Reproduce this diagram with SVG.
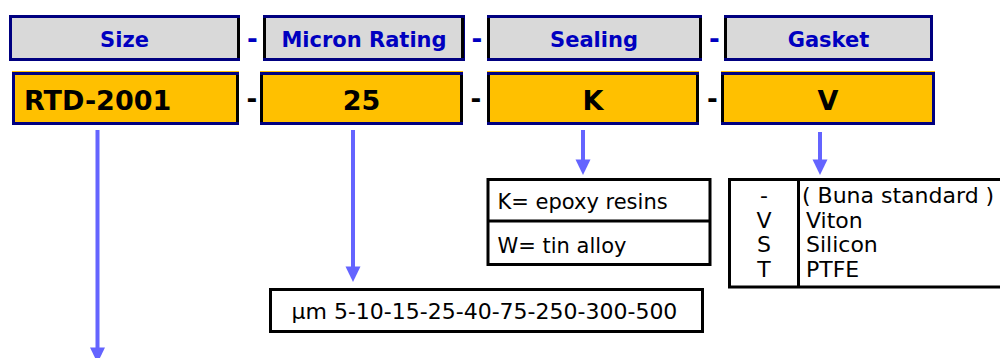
<svg xmlns="http://www.w3.org/2000/svg" width="1000" height="358" viewBox="0 0 1000 358">
<defs>
<style>
.hdr{fill:#d9d9d9;stroke:#000080;stroke-width:3}
.val{fill:#ffc000;stroke:#000080;stroke-width:3}
.inner{stroke:#000000;stroke-width:3}
.otop{stroke:#ffc000;stroke-width:1}
.ht{font-family:"DejaVu Sans",Verdana,sans-serif;font-weight:bold;font-size:21px;fill:#0000c0;text-anchor:middle}
.vt{font-family:"DejaVu Sans",Verdana,sans-serif;font-weight:bold;font-size:27px;fill:#000000;text-anchor:middle}
.dash{font-family:"DejaVu Sans",Verdana,sans-serif;font-weight:bold;font-size:26px;text-anchor:middle}
.box{fill:#ffffff;stroke:#000000;stroke-width:3}
.bt{font-family:"DejaVu Sans",Verdana,sans-serif;font-size:21px;fill:#000000}
.mt{font-family:"DejaVu Sans",Verdana,sans-serif;font-size:22px;fill:#000000}
.gt{font-family:"DejaVu Sans",Verdana,sans-serif;font-size:22px;fill:#000000}
.conn{stroke:#6464ff;stroke-width:4;fill:none}
.head{fill:#6464ff}
</style>
</defs>
<rect width="1000" height="358" fill="#ffffff"/>
<g id="hdr-size">
<rect class="hdr" x="10.5" y="16.5" width="228" height="43"/>
<line class="inner" x1="238.5" y1="18" x2="238.5" y2="58"/>
<text class="ht" x="124.5" y="46.5">Size</text>
</g>
<g id="hdr-micron">
<rect class="hdr" x="264.5" y="16.5" width="199" height="43"/>
<line class="inner" x1="264.5" y1="18" x2="264.5" y2="58"/>
<line class="inner" x1="462.5" y1="18" x2="462.5" y2="58"/>
<text class="ht" x="364" y="46.5">Micron Rating</text>
</g>
<g id="hdr-sealing">
<rect class="hdr" x="488.5" y="16.5" width="212" height="43"/>
<line class="inner" x1="488.5" y1="18" x2="488.5" y2="58"/>
<line class="inner" x1="700.5" y1="18" x2="700.5" y2="58"/>
<text class="ht" x="594" y="46.5">Sealing</text>
</g>
<g id="hdr-gasket">
<rect class="hdr" x="725.5" y="16.5" width="206" height="43"/>
<line class="inner" x1="725.5" y1="18" x2="725.5" y2="58"/>
<text class="ht" x="828.5" y="46.5">Gasket</text>
</g>
<g id="hdr-dashes">
<text class="dash" x="252.5" y="48" fill="#0000c0">-</text>
<text class="dash" x="477" y="48" fill="#0000c0">-</text>
<text class="dash" x="714.5" y="48" fill="#0000c0">-</text>
</g>
<g id="val-size">
<line class="otop" x1="12" y1="71.5" x2="239" y2="71.5"/>
<rect class="val" x="13.5" y="73.5" width="224" height="50"/>
<line class="inner" x1="237.5" y1="75" x2="237.5" y2="122"/>
<text class="vt" x="24" y="109.5" style="text-anchor:start">RTD-2001</text>
</g>
<g id="val-micron">
<line class="otop" x1="260" y1="71.5" x2="463" y2="71.5"/>
<rect class="val" x="261.5" y="73.5" width="200" height="50"/>
<line class="inner" x1="261.5" y1="75" x2="261.5" y2="122"/>
<line class="inner" x1="461.5" y1="75" x2="461.5" y2="122"/>
<text class="vt" x="361.5" y="109.5">25</text>
</g>
<g id="val-sealing">
<line class="otop" x1="487" y1="71.5" x2="699" y2="71.5"/>
<rect class="val" x="488.5" y="73.5" width="209" height="50"/>
<line class="inner" x1="488.5" y1="75" x2="488.5" y2="122"/>
<line class="inner" x1="697.5" y1="75" x2="697.5" y2="122"/>
<text class="vt" x="593" y="109.5">K</text>
</g>
<g id="val-gasket">
<line class="otop" x1="721" y1="71.5" x2="935" y2="71.5"/>
<rect class="val" x="722.5" y="73.5" width="211" height="50"/>
<line class="inner" x1="722.5" y1="75" x2="722.5" y2="122"/>
<text class="vt" x="828" y="109.5">V</text>
</g>
<g id="val-dashes">
<text class="dash" x="252" y="108" fill="#000000">-</text>
<text class="dash" x="476" y="108" fill="#000000">-</text>
<text class="dash" x="712.5" y="108" fill="#000000">-</text>
</g>
<g id="micron-options">
<rect class="box" x="270.5" y="289.5" width="432" height="42"/>
<text class="mt" x="291.5" y="318.5">µm 5-10-15-25-40-75-250-300-500</text>
</g>
<g id="sealing-options">
<rect class="box" x="488" y="179.5" width="222" height="85"/>
<line class="inner" x1="488" y1="221" x2="710" y2="221"/>
<text class="bt" x="497.5" y="209">K= epoxy resins</text>
<text class="bt" x="497.5" y="252.5">W= tin alloy</text>
</g>
<g id="gasket-options">
<rect class="box" x="729.5" y="179.5" width="280" height="107.5"/>
<line class="inner" x1="798.5" y1="179.5" x2="798.5" y2="287"/>
<text class="gt" x="764" y="203.3" text-anchor="middle">-</text>
<text class="gt" x="764" y="227.5" text-anchor="middle">V</text>
<text class="gt" x="764" y="252" text-anchor="middle">S</text>
<text class="gt" x="764" y="276.5" text-anchor="middle">T</text>
<text class="gt" x="802" y="203.3">( Buna standard )</text>
<text class="gt" x="806" y="227.5">Viton</text>
<text class="gt" x="806" y="252">Silicon</text>
<text class="gt" x="806" y="276.5">PTFE</text>
</g>
<g id="connectors">
<line class="conn" x1="97.5" y1="130" x2="97.5" y2="349"/>
<polygon class="head" points="90,347.5 105,347.5 97.5,363"/>
<line class="conn" x1="353" y1="130" x2="353" y2="268"/>
<polygon class="head" points="345.5,266.5 360.5,266.5 353,282"/>
<line class="conn" x1="583" y1="130" x2="583" y2="161"/>
<polygon class="head" points="575.5,159.5 590.5,159.5 583,175"/>
<line class="conn" x1="820" y1="132" x2="820" y2="161"/>
<polygon class="head" points="812.5,159.5 827.5,159.5 820,175"/>
</g>
</svg>
